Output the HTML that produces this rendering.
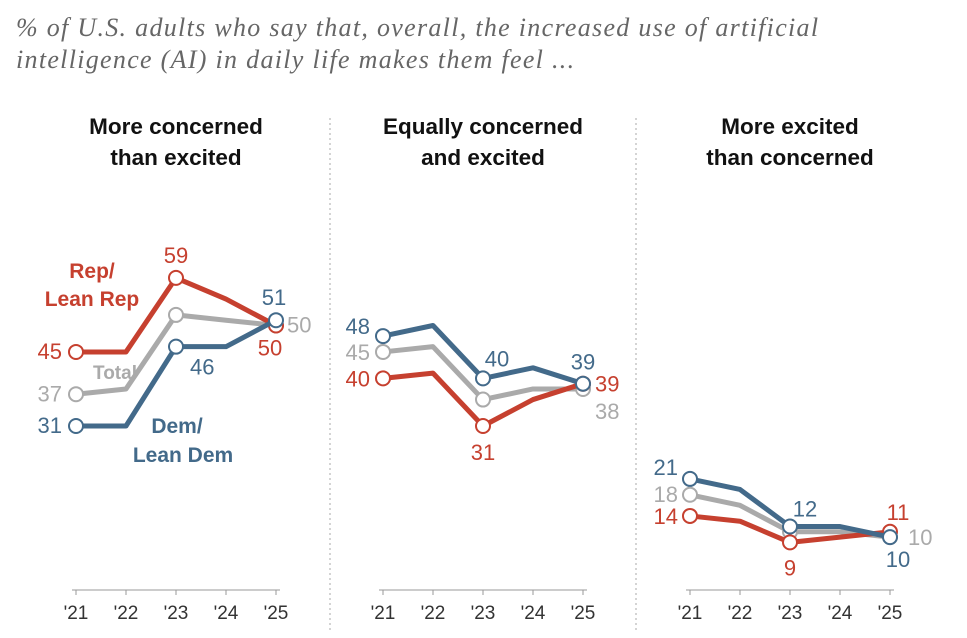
<!DOCTYPE html>
<html><head><meta charset="utf-8">
<style>
body{margin:0;background:#fff;width:967px;height:638px;overflow:hidden;font-family:"Liberation Sans",sans-serif}
.sub{position:absolute;left:16px;top:12px;font-family:"Liberation Serif",serif;font-style:italic;font-size:26px;letter-spacing:1.3px;color:#666;line-height:32px;white-space:nowrap}
</style></head><body>
<div class="sub">% of U.S. adults who say that, overall, the increased use of artificial<br>intelligence (AI) in daily life makes them feel ...</div>
<svg id="c" width="967" height="638" style="position:absolute;left:0;top:0"></svg>
<script>
const years=["'21","'22","'23","'24","'25"];
const panelTitles=[["More concerned","than excited"],["Equally concerned","and excited"],["More excited","than concerned"]];
const repVals=[[45,45,59,55,50],[40,41,31,36,39],[14,13,9,10,11]];
const totVals=[[37,38,52,51,50],[45,46,36,38,38],[18,16,11,11,10]];
const demVals=[[31,31,46,46,51],[48,50,40,42,39],[21,19,12,12,10]];
const panelX0=[76,383,690];
const NS="http://www.w3.org/2000/svg";
const svg=document.getElementById('c');
const y=v=>590-v*5.29;
const xs=(p,i)=>panelX0[p]+i*50;
function mk(t,a,name){const e=document.createElementNS(NS,t);for(const k in a)e.setAttribute(k,a[k]);


svg.appendChild(e);return e;}
function txt(x,yy,s,a,name){const e=mk('text',Object.assign({x:x,y:yy},a),name);e.textContent=s;return e;}
[330,636].forEach((x,i)=>mk('line',{x1:x,x2:x,y1:118,y2:630,stroke:'#aaa','stroke-dasharray':'2,3'},'panel-divider'));
const series=[["total",totVals,"#aaaaaa"],["rep",repVals,"#c6402f"],["dem",demVals,"#436a8a"]];
for(let p=0;p<3;p++){
  const cx=panelX0[p]+100;
  panelTitles[p].forEach((l,i)=>txt(cx,134+i*31,l,{'text-anchor':'middle','font-size':22.5,'font-weight':'bold',fill:'#111'},'panel-title'));
  mk('line',{x1:xs(p,0)-4,x2:xs(p,4)+4,y1:590,y2:590,stroke:'#999'},'x-axis');
  years.forEach((yr,i)=>{mk('line',{x1:xs(p,i),x2:xs(p,i),y1:590,y2:595,stroke:'#999'},'x-tick');
    txt(xs(p,i),619,yr,{'text-anchor':'middle','font-size':19,fill:'#333'},'x-tick-label');});
  series.forEach(([n,vals,col])=>{
    const pts=vals[p].map((v,i)=>xs(p,i)+','+y(v)).join(' ');
    mk('polyline',{points:pts,fill:'none',stroke:col,'stroke-width':5,'stroke-linejoin':'round'},n+'-line');
    [0,2,4].forEach(i=>mk('circle',{cx:xs(p,i),cy:y(vals[p][i]),r:7,fill:'#fff',stroke:col,'stroke-width':2},n+'-marker'));
  });
}
const lab=(x,yy,s,col,anc,n)=>txt(x,yy,s,{'text-anchor':anc,'font-size':22,fill:col},n);
const R="#c6402f",D="#436a8a",T="#aaaaaa";
lab(62,y(45)+7,repVals[0][0],R,'end','rep-label');lab(62,y(37)+7,totVals[0][0],T,'end','total-label');lab(62,y(31)+7,demVals[0][0],D,'end','dem-label');
lab(176,y(59)-15,repVals[0][2],R,'middle','rep-label');lab(190,y(46)+28,demVals[0][2],D,'start','dem-label');
lab(274,y(51)-15,demVals[0][4],D,'middle','dem-label');lab(287,y(50)+7,totVals[0][4],T,'start','total-label');lab(270,y(50)+30,repVals[0][4],R,'middle','rep-label');
txt(92,278,'Rep/',{'text-anchor':'middle','font-size':21,'font-weight':'bold',fill:R},'rep-series-label');
txt(92,306,'Lean Rep',{'text-anchor':'middle','font-size':21,'font-weight':'bold',fill:R},'rep-series-label');
txt(93,379,'Total',{'font-size':19,'font-weight':'bold',fill:T},'total-series-label');
txt(177,433,'Dem/',{'text-anchor':'middle','font-size':21,'font-weight':'bold',fill:D},'dem-series-label');
txt(183,462,'Lean Dem',{'text-anchor':'middle','font-size':21,'font-weight':'bold',fill:D},'dem-series-label');
lab(370,y(48)-2,demVals[1][0],D,'end','dem-label');lab(370,y(45)+8,totVals[1][0],T,'end','total-label');lab(370,y(40)+8,repVals[1][0],R,'end','rep-label');
lab(497,y(40)-12,demVals[1][2],D,'middle','dem-label');lab(483,y(31)+34,repVals[1][2],R,'middle','rep-label');
lab(583,y(39)-14,demVals[1][4],D,'middle','dem-label');lab(595,y(39)+8,repVals[1][4],R,'start','rep-label');lab(595,y(38)+30,totVals[1][4],T,'start','total-label');
lab(678,y(21)-4,demVals[2][0],D,'end','dem-label');lab(678,y(18)+7,totVals[2][0],T,'end','total-label');lab(678,y(14)+8,repVals[2][0],R,'end','rep-label');
lab(805,y(12)-10,demVals[2][2],D,'middle','dem-label');lab(790,y(9)+33,repVals[2][2],R,'middle','rep-label');
lab(898,y(11)-12,repVals[2][4],R,'middle','rep-label');lab(908,y(10)+8,totVals[2][4],T,'start','total-label');lab(898,y(10)+30,demVals[2][4],D,'middle','dem-label');
</script>
</body></html>
